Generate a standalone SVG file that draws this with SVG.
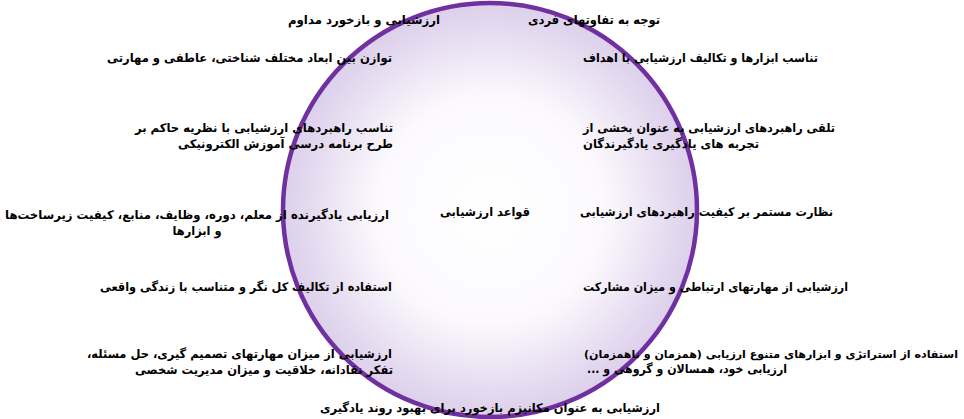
<svg xmlns="http://www.w3.org/2000/svg" width="964" height="419" viewBox="0 0 964 419">
<defs>
<radialGradient id="bg" cx="0.5" cy="0.5" r="0.5">
<stop offset="0" stop-color="#ffffff"/>
<stop offset="0.55" stop-color="#fbf9fd"/>
<stop offset="1" stop-color="#dccfeb"/>
</radialGradient>
<style>
text{font-family:"DejaVu Sans",sans-serif;font-weight:bold;font-size:12px;fill:#000;direction:rtl;unicode-bidi:embed}
.r{text-anchor:start}
.l{text-anchor:end}
.c{text-anchor:middle}
.s{font-size:11px}
</style>
</defs>
<rect width="964" height="419" fill="#ffffff"/>
<g id="circle">
<circle cx="490" cy="210" r="207" fill="url(#bg)" stroke="#7030a0" stroke-width="4.5"/>
</g>
<g id="title"><text class="c" x="485" y="216" textLength="90" lengthAdjust="spacingAndGlyphs">قواعد ارزشیابی</text></g>
<g id="n1"><text class="r" x="440" y="24" textLength="152" lengthAdjust="spacingAndGlyphs">ارزشیابی و بازخورد مداوم</text></g>
<g id="n2"><text class="l" x="528" y="24" textLength="132" lengthAdjust="spacingAndGlyphs">توجه به تفاوتهای فردی</text></g>
<g id="n3"><text class="r" x="392" y="62" textLength="285" lengthAdjust="spacingAndGlyphs">توازن بین ابعاد مختلف شناختی، عاطفی و مهارتی</text></g>
<g id="n4"><text class="l" x="583" y="62" textLength="235" lengthAdjust="spacingAndGlyphs">تناسب ابزارها و تکالیف ارزشیابی با اهداف</text></g>
<g id="n5"><text class="r" x="393" y="132" textLength="258" lengthAdjust="spacingAndGlyphs">تناسب راهبردهای ارزشیابی با نظریه حاکم بر</text><text class="r" x="393" y="148" textLength="215" lengthAdjust="spacingAndGlyphs">طرح برنامه درسی آموزش الکترونیکی</text></g>
<g id="n6"><text class="l" x="583" y="132" textLength="252" lengthAdjust="spacingAndGlyphs">تلقی راهبردهای ارزشیابی به عنوان بخشی از</text><text class="l" x="583" y="148" textLength="176" lengthAdjust="spacingAndGlyphs">تجربه های یادگیری یادگیرندگان</text></g>
<g id="n7"><text class="c" x="197" y="219" textLength="384" lengthAdjust="spacingAndGlyphs">ارزیابی یادگیرنده از معلم،  دوره، وظایف، منابع، کیفیت زیرساخت‌ها</text><text class="c" x="197" y="235" textLength="49" lengthAdjust="spacingAndGlyphs">و ابزارها</text></g>
<g id="n8"><text class="l" x="580" y="216" textLength="253" lengthAdjust="spacingAndGlyphs">نظارت مستمر بر کیفیت راهبردهای ارزشیابی</text></g>
<g id="n9"><text class="r" x="392" y="291" textLength="292" lengthAdjust="spacingAndGlyphs">استفاده از تکالیف کل نگر و متناسب با زندگی واقعی</text></g>
<g id="n10"><text class="l" x="583" y="291" textLength="265" lengthAdjust="spacingAndGlyphs">ارزشیابی از مهارتهای ارتباطی و میزان مشارکت</text></g>
<g id="n11"><text class="r" x="392" y="358" textLength="305" lengthAdjust="spacingAndGlyphs">ارزشیابی از میزان مهارتهای تصمیم گیری، حل مسئله،</text><text class="r" x="393" y="374" textLength="258" lengthAdjust="spacingAndGlyphs">تفکر نقادانه، خلاقیت و میزان مدیریت شخصی</text></g>
<g id="n12"><text class="l s" x="584" y="358" textLength="374" lengthAdjust="spacingAndGlyphs">استفاده از استراتژی و ابزارهای متنوع ارزیابی (همزمان و ناهمزمان)</text><text class="l" x="587" y="373" textLength="200" lengthAdjust="spacingAndGlyphs">ارزیابی خود، همسالان و گروهی و ...</text></g>
<g id="n13"><text class="c" x="490" y="412" textLength="340" lengthAdjust="spacingAndGlyphs">ارزشیابی به عنوان مکانیزم بازخورد برای بهبود روند یادگیری</text></g>
</svg>
